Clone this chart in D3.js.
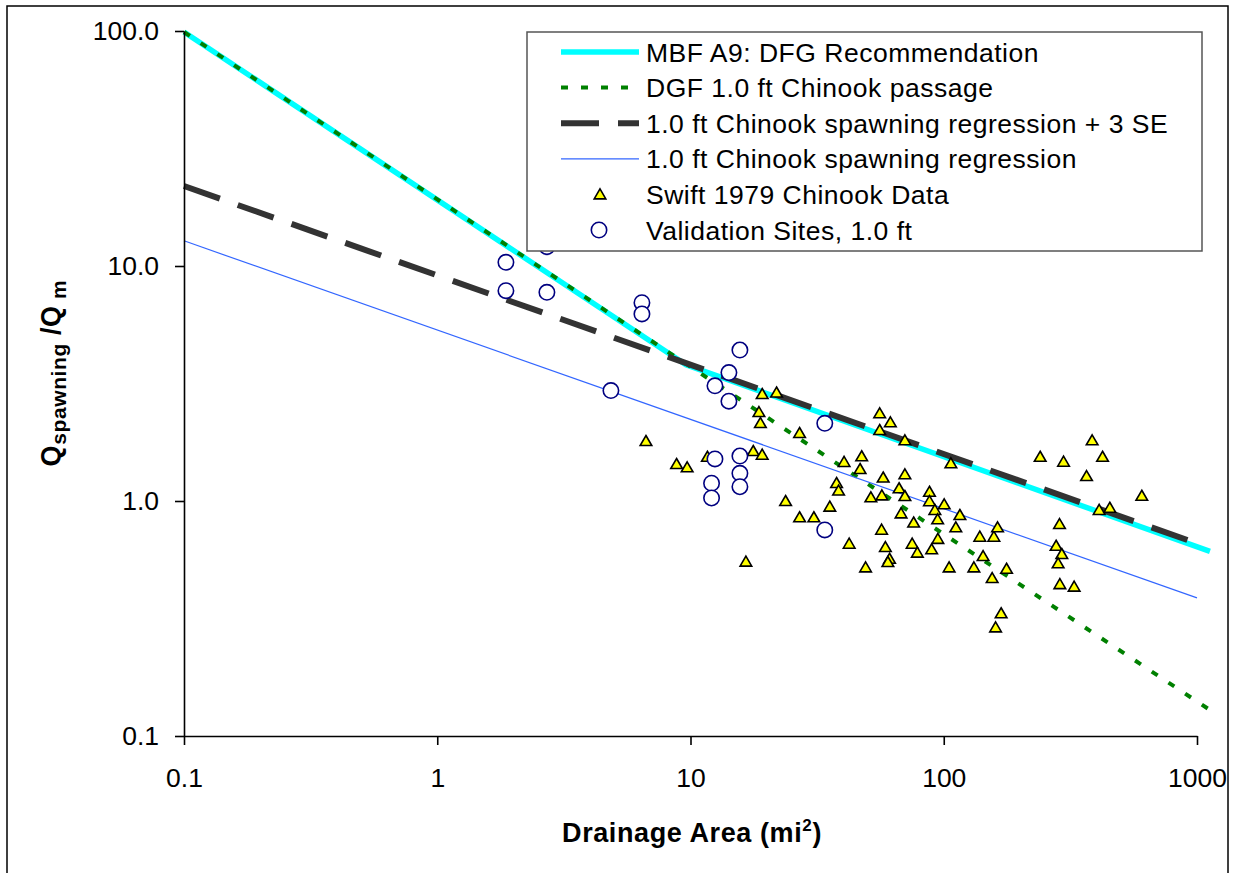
<!DOCTYPE html>
<html>
<head>
<meta charset="utf-8">
<script src="https://cdn.jsdelivr.net/npm/d3@7/dist/d3.min.js"></script>
<style>
  html, body { margin: 0; padding: 0; background: #fff; }
  svg { display: block; font-family: "Liberation Sans", Arial, sans-serif; }
</style>
</head>
<body>
<svg id="chart" width="1236" height="873"></svg>
<script>
// ---- Data ----
const xTickValues = [0.1, 1, 10, 100, 1000];
const xTickLabels = ["0.1", "1", "10", "100", "1000"];
const yTickValues = [0.1, 1, 10, 100];
const yTickLabels = ["0.1", "1.0", "10.0", "100.0"];

// MBF A9: DFG Recommendation
const mbfArea = [0.1, 9.6, 1125];
const mbfQ = [99, 3.8, 0.61];
// DGF 1.0 ft Chinook passage
const passageArea = [0.1, 1125];
const passageQ = [99, 0.129];
// 1.0 ft Chinook spawning regression + 3 SE
const reg3seArea = [0.1, 1000];
const reg3seQ = [21.9, 0.66];
// 1.0 ft Chinook spawning regression
const regArea = [0.1, 1000];
const regQ = [12.8, 0.387];

// Swift 1979 Chinook Data
const swiftArea = [6.67, 8.81, 9.70, 11.66, 16.55, 17.69, 19.19, 19.19, 21.87, 18.63,
  18.88, 23.74, 26.96, 26.96, 30.70, 35.49, 40.40, 37.74, 38.43, 42.32,
  47.42, 46.73, 49.13, 51.55, 55.85, 61.55, 55.85, 70.23, 57.66, 70.23,
  56.97, 66.62, 70.23, 67.83, 76.06, 56.82, 58.82, 61.10, 60.17, 75.04,
  78.67, 89.59, 94.78, 87.83, 87.83, 92.23, 94.6, 100.4, 106.7, 115.8,
  111.6, 105.0, 131.5, 138.8, 157.7, 163.1, 143.0, 155.3, 177.0, 168.5,
  160.2, 240.3, 297.2, 385.4, 423.7, 366.3, 605.4, 410.8, 452.6, 286.5,
  277.8, 292.5, 282.9, 287.4, 327.2];
const swiftQ = [1.80, 1.437, 1.391, 1.543, 0.552, 1.632, 1.574, 2.853, 2.895, 2.391,
  2.147, 1.0, 1.947, 0.853, 0.853, 0.946, 1.466, 1.193, 1.108, 0.658,
  1.550, 1.368, 0.522, 1.037, 2.362, 2.162, 2.005, 1.813, 1.259, 1.299,
  1.057, 1.133, 1.050, 0.886, 0.810, 0.755, 0.637, 0.568, 0.550, 0.658,
  0.603, 0.623, 0.690, 1.095, 0.998, 0.916, 0.836, 0.968, 1.447, 0.872,
  0.773, 0.522, 0.522, 0.705, 0.705, 0.773, 0.583, 0.470, 0.515, 0.333,
  0.290, 1.543, 1.470, 1.813, 1.543, 1.277, 1.053, 0.916, 0.936, 0.798,
  0.645, 0.595, 0.543, 0.443, 0.432];

// Validation Sites, 1.0 ft
const validArea = [1.867, 1.867, 2.71, 2.71, 6.43, 6.43, 4.85, 15.67, 14.18, 12.49,
  14.18, 33.9, 12.49, 15.67, 15.67, 12.11, 12.11, 15.67, 33.9];
const validQ = [10.37, 7.85, 7.73, 12.08, 6.98, 6.25, 2.95, 4.39, 3.52, 3.09,
  2.66, 2.14, 1.51, 1.554, 1.312, 1.19, 1.03, 1.15, 0.753];

const legendLabels = [
  "MBF A9: DFG Recommendation",
  "DGF 1.0 ft Chinook passage",
  "1.0 ft Chinook spawning regression + 3 SE",
  "1.0 ft Chinook spawning regression",
  "Swift 1979 Chinook Data",
  "Validation Sites, 1.0 ft"
];

// ---- Build ----
const svg = d3.select("#chart");
const zip = (a, b) => a.map((v, i) => [v, b[i]]);

const x = d3.scaleLog().domain([0.1, 1000]).range([184, 1197]);
const y = d3.scaleLog().domain([0.1, 100]).range([736, 31]);

// outer frame
svg.append("rect").attr("x", 7).attr("y", 6).attr("width", 1221).attr("height", 900)
  .attr("fill", "#fff").attr("stroke", "#000").attr("stroke-width", 1.5);

const line = d3.line().x(d => x(d[0])).y(d => y(d[1]));

const seriesStyles = [
  { data: zip(mbfArea, mbfQ), stroke: "#00FFFF", width: 5.5, dash: null },
  { data: zip(passageArea, passageQ), stroke: "#008000", width: 4, dash: "7,13" },
  { data: zip(reg3seArea, reg3seQ), stroke: "#333333", width: 6, dash: "38,19" },
  { data: zip(regArea, regQ), stroke: "#3366FF", width: 1.2, dash: null }
];

seriesStyles.forEach(s => {
  svg.append("path").datum(s.data)
    .attr("d", line)
    .attr("fill", "none")
    .attr("stroke", s.stroke)
    .attr("stroke-width", s.width)
    .attr("stroke-dasharray", s.dash)
    .attr("stroke-linecap", "butt");
});

const triPath = "M0,-5.5L5.8,4.5L-5.8,4.5Z";

svg.append("g").selectAll("path").data(zip(swiftArea, swiftQ)).join("path")
  .attr("d", triPath)
  .attr("transform", d => `translate(${x(d[0])},${y(d[1])})`)
  .attr("fill", "#FFFF00").attr("stroke", "#000").attr("stroke-width", 1.6)
  .attr("stroke-linejoin", "miter");

svg.append("g").selectAll("circle").data(zip(validArea, validQ)).join("circle")
  .attr("cx", d => x(d[0])).attr("cy", d => y(d[1])).attr("r", 7.7)
  .attr("fill", "#fff").attr("stroke", "#000080").attr("stroke-width", 1.6);

// axes
const xAxis = d3.axisBottom(x).tickValues(xTickValues)
  .tickFormat((d, i) => xTickLabels[i]).tickSize(9).tickSizeOuter(0).tickPadding(23);
const yAxis = d3.axisLeft(y).tickValues(yTickValues)
  .tickFormat((d, i) => yTickLabels[i]).tickSize(9).tickSizeOuter(0).tickPadding(16);

const gx = svg.append("g").attr("transform", "translate(0,736)").call(xAxis);
const gy = svg.append("g").attr("transform", "translate(184,0)").call(yAxis);
[gx, gy].forEach(g => {
  g.select(".domain").attr("stroke", "#000").attr("stroke-width", 1.6);
  g.selectAll(".tick line").attr("stroke", "#000").attr("stroke-width", 1.6);
  g.selectAll(".tick text").attr("fill", "#000")
    .style("font-size", "26.5px").style("font-family", "'Liberation Sans', Arial, sans-serif");
});

// axis titles
const xt = svg.append("text").attr("x", 692).attr("y", 842).attr("text-anchor", "middle")
  .style("font-size", "27px").style("font-weight", "bold").style("letter-spacing", "0.6px");
xt.append("tspan").text("Drainage Area (mi");
xt.append("tspan").attr("dy", -11).style("font-size", "17px").text("2");
xt.append("tspan").attr("dy", 11).text(")");

const yt = svg.append("text").attr("transform", "translate(60,373) rotate(-90)")
  .attr("text-anchor", "middle")
  .style("font-size", "27px").style("font-weight", "bold").style("letter-spacing", "0.6px");
yt.append("tspan").text("Q");
yt.append("tspan").attr("dy", 6).style("font-size", "21px").text("spawning");
yt.append("tspan").attr("dy", -6).text(" /Q");
yt.append("tspan").attr("dy", 6).style("font-size", "21px").text(" m");

// legend
const lg = svg.append("g");
lg.append("rect").attr("x", 527).attr("y", 32).attr("width", 675).attr("height", 219)
  .attr("fill", "#fff").attr("stroke", "#555").attr("stroke-width", 1.5);
const rowY = i => 52 + i * 35.6;
seriesStyles.forEach((s, i) => {
  lg.append("line").attr("x1", 561).attr("x2", 639).attr("y1", rowY(i)).attr("y2", rowY(i))
    .attr("stroke", s.stroke).attr("stroke-width", s.width)
    .attr("stroke-dasharray", s.dash);
});
lg.append("path").attr("d", triPath).attr("transform", `translate(600,${rowY(4)})`)
  .attr("fill", "#FFFF00").attr("stroke", "#000").attr("stroke-width", 1.6);
lg.append("circle").attr("cx", 599).attr("cy", rowY(5)).attr("r", 7.7)
  .attr("fill", "#fff").attr("stroke", "#000080").attr("stroke-width", 1.6);
legendLabels.forEach((t, i) => {
  lg.append("text").attr("x", 646).attr("y", rowY(i) + 9.5)
    .style("font-size", "26.5px").style("letter-spacing", "0.5px").text(t);
});
</script>
</body>
</html>
